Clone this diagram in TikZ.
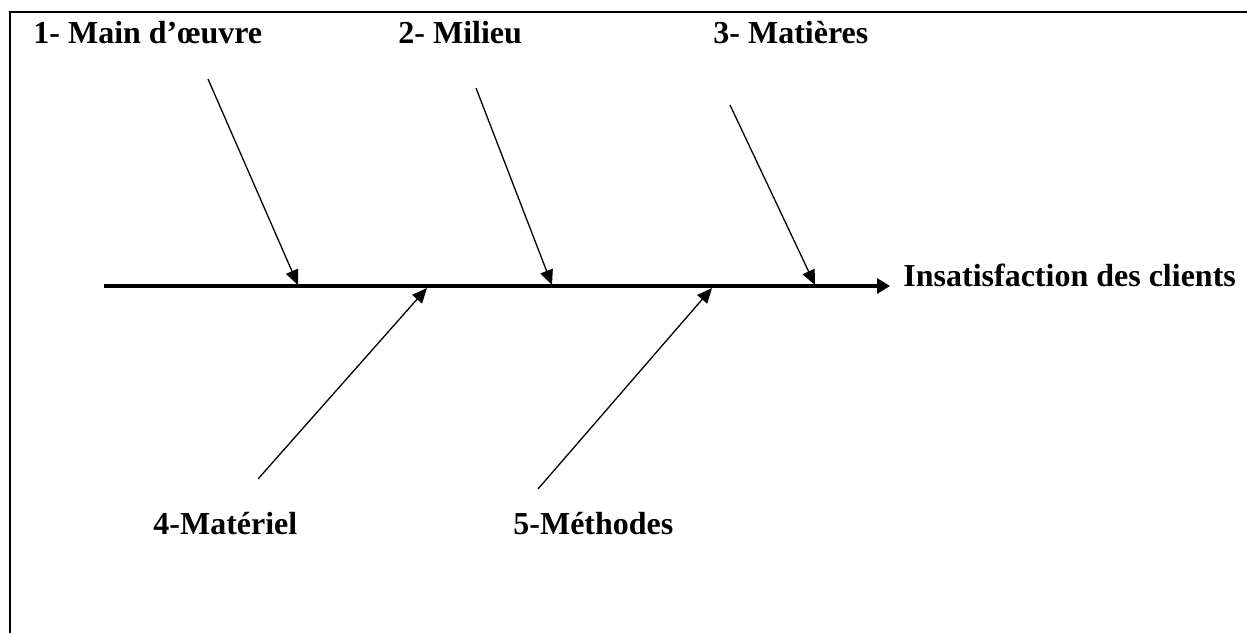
\documentclass[tikz,border=0pt]{standalone}
\usepackage{fontspec}
\setmainfont{Liberation Serif}
\usetikzlibrary{arrows.meta, positioning}

\begin{document}
\begin{tikzpicture}[
        x=0.5pt, y=-0.5pt,
        cause/.style={font=\fontsize{16}{19}\selectfont\bfseries, inner sep=0pt, anchor=base west},
        spine/.style={-{Triangle[length=6.5pt, width=7.5pt]}, line width=1.8pt},
        bone/.style={-{Triangle[length=7.5pt, width=6.5pt]}, line width=0.65pt},
        frame/.style={line width=1pt}
    ]
        \useasboundingbox (0,0) rectangle (1247,633);

        % Frame
        \coordinate (fbot) at (10,633);
        \coordinate (fcorner) at (10,12);
        \coordinate (fright) at (1247,12);
        \draw[frame] (fbot) -- (fcorner) -- (fright);

        % Categories
        \node[cause] (maindoeuvre) at (33,43) {1- Main d’œuvre};
        \node[cause] (milieu) at (398,43) {2- Milieu};
        \node[cause] (matieres) at (713,43) {3- Matières};
        \node[cause] (materiel) at (153,534) {4-Matériel};
        \node[cause] (methodes) at (513,534) {5-Méthodes};

        % Effect
        \node[cause] (effect) at (903,286) {Insatisfaction des clients};

        % Spine
        \coordinate (tail) at (104,286);
        \coordinate (head) at (890,286);
        \draw[spine] (tail) -- (head);

        % Bones
        \coordinate (b1) at (208,79);
        \coordinate (b2) at (476,88);
        \coordinate (b3) at (730,105);
        \coordinate (b4) at (258,479);
        \coordinate (b5) at (538,489);
        \coordinate (t1) at (298,285);
        \coordinate (t2) at (552,285);
        \coordinate (t3) at (815,285);
        \coordinate (t4) at (427,288);
        \coordinate (t5) at (712,288);
        \draw[bone] (b1) -- (t1);
        \draw[bone] (b2) -- (t2);
        \draw[bone] (b3) -- (t3);
        \draw[bone] (b4) -- (t4);
        \draw[bone] (b5) -- (t5);
    \end{tikzpicture}
\end{document}
